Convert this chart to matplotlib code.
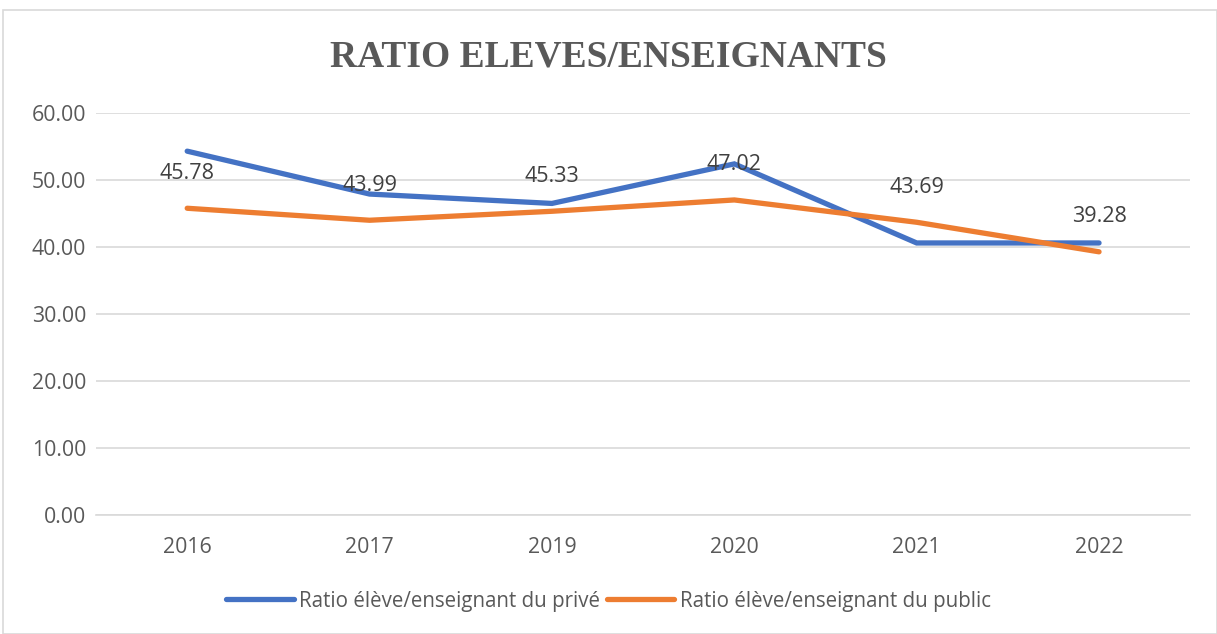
import matplotlib.pyplot as plt
from matplotlib.patches import Rectangle

years = ['2016', '2017', '2019', '2020', '2021', '2022']
prive = [54.3, 47.9, 46.5, 52.4, 40.6, 40.6]
public = [45.78, 43.99, 45.33, 47.02, 43.69, 39.28]

plt.rcParams['font.family'] = ['Open Sans', 'DejaVu Sans']

fig = plt.figure(figsize=(12.17, 6.34), dpi=100)
ax = fig.add_axes([0.0789, 0.1877, 0.8991, 0.6341])

# cadre du graphique
fig.patches.append(Rectangle((3 / 1217, 0), 1 - 3 / 1217, 1 - 10 / 634, transform=fig.transFigure,
                             fill=False, edgecolor='#d9d9d9', linewidth=1.2))

x = range(len(years))
ax.plot(x, prive, color='#4472C4', lw=3.8, solid_capstyle='round', solid_joinstyle='miter',
        label='Ratio élève/enseignant du privé')
ax.plot(x, public, color='#ED7D31', lw=3.8, solid_capstyle='round', solid_joinstyle='miter',
        label='Ratio élève/enseignant du public')

for i, v in enumerate(public):
    ax.annotate('%.2f' % v, (i, v), xytext=(0, 35), textcoords='offset pixels',
                ha='center', va='center', fontsize=15.5, color='#404040')

ax.set_xlim(-0.5, 5.5)
ax.set_ylim(0, 60)
ax.set_yticks(range(0, 61, 10))
ax.set_yticklabels(['%.2f' % t for t in range(0, 61, 10)])
ax.set_xticks(list(x))
ax.set_xticklabels(years)
ax.grid(axis='y', color='#d9d9d9', lw=1.2)
ax.set_axisbelow(True)
for s in ['top', 'right', 'left']:
    ax.spines[s].set_visible(False)
ax.spines['bottom'].set_color('#d9d9d9')
ax.spines['bottom'].set_linewidth(1.2)
ax.tick_params(length=0, labelsize=15.3, colors='#595959', pad=16)
ax.tick_params(axis='y', pad=7)

fig.text(0.5, 0.91, 'RATIO ELEVES/ENSEIGNANTS', ha='center', va='center',
         family='Liberation Serif', fontweight='bold', fontsize=27, color='#595959')

fig.legend(loc='center', bbox_to_anchor=(0.5, 0.052), ncol=2, frameon=False,
           fontsize=14.8, handlelength=3.3, columnspacing=0.3, handletextpad=0.25,
           labelcolor='#595959')

fig.savefig('out.png', dpi=100)
